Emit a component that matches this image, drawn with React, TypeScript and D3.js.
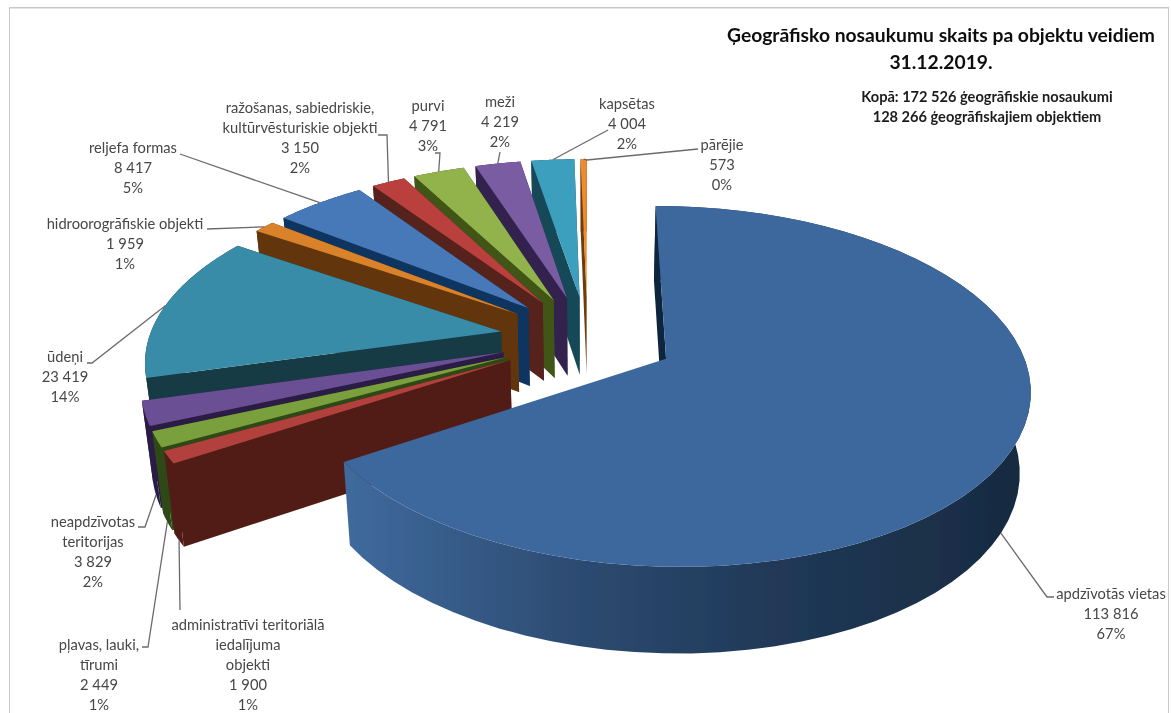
import React from "react";
import * as d3 from "d3";

const names = [
  ["apdzīvotās vietas"],
  ["administratīvi teritoriālā", "iedalījuma", "objekti"],
  ["pļavas, lauki,", "tīrumi"],
  ["neapdzīvotas", "teritorijas"],
  ["ūdeņi"],
  ["hidroorogrāfiskie objekti"],
  ["reljefa formas"],
  ["ražošanas, sabiedriskie,", "kultūrvēsturiskie objekti"],
  ["purvi"],
  ["meži"],
  ["kapsētas"],
  ["pārējie"],
];
const values = [113816, 1900, 2449, 3829, 23419, 1959, 8417, 3150, 4791, 4219, 4004, 573];
const percents = [67, 1, 1, 2, 14, 1, 5, 2, 3, 2, 2, 0];

const topColors = ["#3d689d", "#b2413e", "#7a9f3d", "#6b4f94", "#388ca8", "#d9822b", "#4678b8", "#b9413e", "#92b34b", "#7a5ba3", "#3e9fbe", "#f08a2e"];
const wallColors = ["#1b2f47", "#511f19", "#2f4a14", "#2c1e45", "#153a45", "#63350f", "#10355e", "#56201c", "#3f5419", "#32234d", "#174a58", "#6e3c10"];

// label centre x, first line y, then the bends of the leader line
const labelBoxes = [
  { x: 1111, y: 599, bends: [[1054, 597], [1047, 597]], base: true },
  { x: 248, y: 630, bends: [[180, 610]], base: true },
  { x: 99, y: 650, bends: [[142, 647], [148, 647]], base: true },
  { x: 93, y: 527, bends: [[138, 527], [145, 527]], base: true },
  { x: 65, y: 362, bends: [[87, 363], [92, 363]], base: false },
  { x: 125, y: 229, bends: [[207, 229]], base: false },
  { x: 133, y: 153, bends: [[180, 154]], base: false },
  { x: 300, y: 113, bends: [[378, 135], [387, 135]], base: false },
  { x: 428, y: 111, bends: [[435, 153], [440, 153]], base: false },
  { x: 500, y: 107, bends: [[500, 152]], base: false },
  { x: 627, y: 109, bends: [[608, 130]], base: false },
  { x: 722, y: 150, bends: [[698, 149], [587, 160]], base: false },
];

const W = 1171;
const H = 713;
const OX = 587.5;
const OY = 338;
const R = 352;
const K = 170;
const PERSP = 0.15;
const EXPLODE = 0.25;
const DEPTH = 79;

const fmt = d3.formatLocale({ decimal: ",", thousands: " ", grouping: [3], currency: ["", ""] }).format(",d");

function project(xn: number, yn: number, base = false): [number, number] {
  const w = 1 - PERSP * yn;
  let x = OX + (R * xn) / w;
  let y = OY + (K * yn) / w;
  if (base) {
    y += DEPTH / Math.sqrt(w);
    x -= (x - OX) * 0.025;
  }
  return [x, y];
}

const line = d3.line();
const pies = d3.pie<number>().sort(null)(values);

function sliceShape(i: number) {
  const p = pies[i];
  const mid = (p.startAngle + p.endAngle) / 2;
  const ax = EXPLODE * Math.sin(mid);
  const ay = -EXPLODE * Math.cos(mid);
  const onRim = (a: number, base = false) => project(ax + Math.sin(a), ay - Math.cos(a), base);
  const angles = d3.range(0, 61).map((k) => p.startAngle + ((p.endAngle - p.startAngle) * k) / 60);
  const apexTop = project(ax, ay);
  const apexBase = project(ax, ay, true);
  const rimTop = angles.map((a) => onRim(a));
  const rimBase = angles.map((a) => onRim(a, true));
  return {
    top: line([apexTop, ...rimTop])! + "Z",
    startWall: line([apexTop, rimTop[0], rimBase[0], apexBase])! + "Z",
    endWall: line([apexTop, rimTop[60], rimBase[60], apexBase])! + "Z",
    rimWall: line([...rimTop, ...rimBase.slice().reverse()])! + "Z",
    anchor: onRim(mid, labelBoxes[i].base),
  };
}

const shapes = values.map((_, i) => sliceShape(i));
// far slices first, the big one last
const drawOrder = d3.range(values.length - 1, 0, -1).concat(0);

export default function App() {
  return (
    <svg
      width={W}
      height={H}
      viewBox={`0 0 ${W} ${H}`}
      style={{ position: "absolute", left: 0, top: 0, background: "#fff" }}
      fontFamily="Lato, 'Noto Sans', sans-serif"
    >
      <defs>
        <linearGradient id="bigWall" gradientUnits="userSpaceOnUse" x1={346} x2={1030} y1={0} y2={0}>
          <stop offset="0" stopColor="#3f6a9d" />
          <stop offset="0.35" stopColor="#2c4a70" />
          <stop offset="0.6" stopColor="#213a59" />
          <stop offset="1" stopColor="#172a40" />
        </linearGradient>
        <filter id="soft" x="0" y="0" width="100%" height="100%">
          <feGaussianBlur stdDeviation="0.45" />
        </filter>
      </defs>
      <g filter="url(#soft)">
        <path d={`M9,${H}V7.5H1169V${H}`} fill="none" stroke="#c9c9c9" strokeWidth={2} />

        {drawOrder.map((i) => (
          <g key={i}>
            <path d={shapes[i].rimWall} fill={i === 0 ? "url(#bigWall)" : wallColors[i]} />
            {i !== 0 && <path d={shapes[i].endWall} fill={wallColors[i]} />}
            <path d={shapes[i].startWall} fill={i === 0 ? "#10253e" : wallColors[i]} />
            <path d={shapes[i].top} fill={topColors[i]} />
          </g>
        ))}

        {labelBoxes.map((b, i) => (
          <path
            key={i}
            d={line([...(b.bends as [number, number][]), shapes[i].anchor])!}
            fill="none"
            stroke="#6b6b6b"
            strokeWidth={1.3}
          />
        ))}

        {names.map((lines, i) => (
          <text key={i} x={labelBoxes[i].x} textAnchor="middle" fontSize={14.7} fill="#474747">
            {[...lines, fmt(values[i]), `${percents[i]}%`].map((t, j) => (
              <tspan key={j} x={labelBoxes[i].x} y={labelBoxes[i].y + j * 20}>
                {t}
              </tspan>
            ))}
          </text>
        ))}

        <text textAnchor="middle" fontWeight={700} fill="#111" fontSize={19.3}>
          <tspan x={941} y={42}>Ģeogrāfisko nosaukumu skaits pa objektu veidiem</tspan>
          <tspan x={941} y={69}>31.12.2019.</tspan>
        </text>
        <text textAnchor="middle" fontWeight={700} fill="#1c1c1c" fontSize={14.6}>
          <tspan x={987} y={102}>Kopā: 172 526 ģeogrāfiskie nosaukumi</tspan>
          <tspan x={987} y={122}>128 266 ģeogrāfiskajiem objektiem</tspan>
        </text>
      </g>
    </svg>
  );
}
